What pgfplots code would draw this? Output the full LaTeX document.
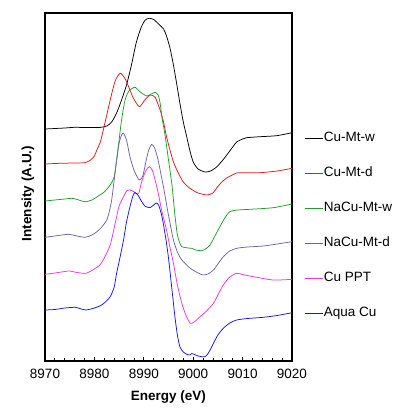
\documentclass[border=0pt]{standalone}
\usepackage{fontspec}
\setmainfont{Liberation Sans}
\usepackage{pgfplots}
\pgfplotsset{compat=1.18}
\definecolor{cred}{RGB}{235,20,25}
\definecolor{cgreen}{RGB}{30,160,40}
\definecolor{cpurple}{RGB}{110,100,160}
\definecolor{cmag}{RGB}{250,50,215}
\definecolor{cblue}{RGB}{20,20,230}
\newcommand{\fs}{\fontsize{13.5}{16}\selectfont}
\begin{document}
\begin{tikzpicture}
\useasboundingbox (-45pt,-49pt) rectangle (361pt,361pt);
\begin{axis}[
  at={(0pt,0pt)}, anchor=south west,
  scale only axis, width=247pt, height=348pt,
  xmin=8970, xmax=9020, ymin=13, ymax=361, y dir=reverse,
  xtick={8970,8980,...,9020}, minor x tick num=4,
  ytick=\empty,
  xtick pos=lower, tick align=inside,
  major tick length=4pt, minor tick length=3pt,
  axis line style={line width=1.4pt},
  every tick/.style={black, line width=0.8pt},
  /pgf/number format/assume math mode=true,
  /pgf/number format/1000 sep={},
  xticklabel style={font=\fs, yshift=-5pt},
  xlabel={\bfseries Energy (eV)},
  xlabel style={font=\fs, at={(axis description cs:0.5,0)}, anchor=center, yshift=-36pt},
  ylabel={\bfseries Intensity (A.U.)},
  ylabel style={font=\fs, at={(axis description cs:-0.069,0.481)}, anchor=center},
  legend image code/.code={\draw[#1] (0pt,0pt) -- (18pt,0pt);},
  legend cell align=left,
  legend style={draw=none, fill=none, font=\fs, at={(axis description cs:1.0486,0.659)}, anchor=north west,
    inner sep=0pt, row sep=22.3pt, column sep=1pt,
    nodes={inner sep=0pt, text height=9.7pt, text depth=3pt}},
  every axis plot/.append style={line width=0.75pt, smooth, tension=0.4},
]
\addplot[black] coordinates {
(8970,129)(8974,128)(8976,127.3)(8978,127.5)(8981,127.5)(8982.5,126)(8983.5,122)(8984.5,113)
(8985.5,100)(8986.5,85)(8987.5,65)(8988.5,42)(8989.5,27)(8990.3,20)(8991.1,18.3)(8992,19.5)
(8993,24)(8994,29)(8994.6,36)(8995.3,48)(8996,65)(8996.7,85)(8997.3,103)(8998,122)(8998.7,137)
(8999.3,150)(9000,162)(9001,169)(9002.4,172)(9003.5,171)(9004.75,167)(9006,160)(9006.8,155)
(9008,147)(9008.8,142)(9010,139)(9010.8,137.7)(9013.5,136.7)(9016.9,135.7)(9020,132.7)};
\addlegendentry{Cu-Mt-w}
\addplot[cred] coordinates {
(8970,164)(8973,163.3)(8976,163)(8978,162.7)(8979.1,160.5)(8980,156)(8980.5,150)(8981.2,142)
(8981.8,130)(8982.5,115)(8983.2,100)(8984.2,81)(8985.2,73.3)(8986,77)(8986.5,81.7)(8987.2,90)
(8987.9,98.3)(8989.1,106.7)(8990.2,100)(8991.3,95)(8992.3,97.3)(8993.3,110)(8993.9,120)
(8994.6,136.7)(8995.3,150)(8996,162)(8996.7,170)(8997.5,178)(8998,182)(8999,187)(9000,190.5)
(9001,193)(9002.8,195)(9004,193)(9004.75,188)(9005.8,182)(9006.8,178)(9008.8,173)(9011,172.7)
(9013.5,172.7)(9017,171)(9020,168.3)};
\addlegendentry{Cu-Mt-d}
\addplot[cgreen] coordinates {
(8970,201)(8972,200)(8974,199)(8975.4,198.3)(8976.5,199.5)(8978.1,201.7)(8979.5,200)(8981.1,195)
(8982,192)(8983.2,185)(8984,177)(8984.5,160)(8985,140)(8985.5,120)(8986.2,100)(8987,91)
(8988.2,87.3)(8989.2,91.7)(8990.6,96)(8991.5,94)(8992.3,92.3)(8992.9,95)(8993.3,103)(8993.7,118)
(8994.3,135)(8995,160)(8995.7,185)(8996.3,215)(8996.8,235)(8997.3,243)(8997.7,246.7)(8999,248)
(8999.7,248.3)(9000.5,250)(9001.7,250.7)(9002.5,249)(9003.4,245)(9004.4,236)(9005.4,226.7)
(9006.4,218)(9007.4,211.7)(9009,210)(9011.5,209.3)(9016.2,207.7)(9020,204)};
\addlegendentry{NaCu-Mt-w}
\addplot[cpurple] coordinates {
(8970,237.3)(8972,236)(8974.7,234.3)(8976,235.5)(8978.1,237.3)(8979.5,235)(8980.5,231.7)
(8981.5,227)(8982.5,220)(8983,212)(8983.5,200)(8984,180)(8984.5,160)(8985,143)(8985.5,135)
(8985.9,133.3)(8986.5,140)(8987.2,156.7)(8988,170)(8988.9,179)(8989.2,180)(8989.8,176)
(8990.5,160)(8991,150)(8991.6,144.5)(8992.2,148)(8992.9,160)(8993.5,175)(8994.1,190)
(8994.8,210)(8995.5,228)(8996,240)(8996.8,252)(8997.7,260)(8999.4,268.3)(9001,273)(9002,275)
(9003,274)(9004.1,270)(9005,264)(9006.1,256.7)(9007.4,251)(9008.8,248.3)(9011,247)(9014.2,246)
(9017,244)(9020,241.7)};
\addlegendentry{NaCu-Mt-d}
\addplot[cmag] coordinates {
(8970,274.3)(8972,273)(8974,271.5)(8975,271)(8976.5,272.5)(8978.3,273.3)(8980,269)(8981.1,265)
(8982,258)(8983.2,245)(8984,228)(8984.5,216.7)(8985,206)(8985.9,196.7)(8986.5,191)(8987.2,190)
(8988,191.7)(8988.6,194)(8989,193)(8989.5,183)(8989.9,176.7)(8990.5,170)(8991.1,166.7)
(8991.7,170)(8992.3,180)(8993,195)(8993.6,210)(8994.6,230)(8995.2,245)(8996,263.3)(8996.8,285)
(8997.7,303.3)(8998.5,315)(8999.4,323.3)(9000.2,322)(9001.4,316.7)(9002.7,311)(9004.1,303.3)
(9005.1,294)(9006.1,285)(9007.4,277)(9008.8,273.3)(9010,274.5)(9012.2,276.7)(9016.2,280)
(9020,279.3)};
\addlegendentry{Cu PPT}
\addplot[cblue] coordinates {
(8970,310)(8972,309.5)(8974,308)(8976.1,307.3)(8977,308.5)(8978.3,310)(8980,308)(8981.1,306)
(8982,303)(8983.2,296.7)(8984,287)(8984.5,273.3)(8985.2,257)(8985.9,240)(8986.5,222)(8987.2,206.7)
(8987.8,196)(8988.2,192.5)(8988.8,195)(8989.5,201)(8990.2,206)(8990.6,207)(8991.3,207.5)
(8992,205)(8992.5,203)(8993,205)(8993.6,215)(8994,225)(8994.5,240)(8995,258)(8995.6,285)
(8996.3,316.7)(8996.8,335)(8997.3,346.7)(8998,352)(8998.7,354.3)(8999.3,355)(8999.7,353.5)
(9000.2,354.3)(9001,356)(9002.4,356.7)(9003.2,352)(9004.1,343.3)(9005,335)(9006.1,328.3)
(9007.4,323)(9008.8,320)(9011,318.5)(9014.2,317.3)(9017,315.5)(9020,312.7)};
\addlegendentry{Aqua Cu}
\end{axis}
\end{tikzpicture}
\end{document}
